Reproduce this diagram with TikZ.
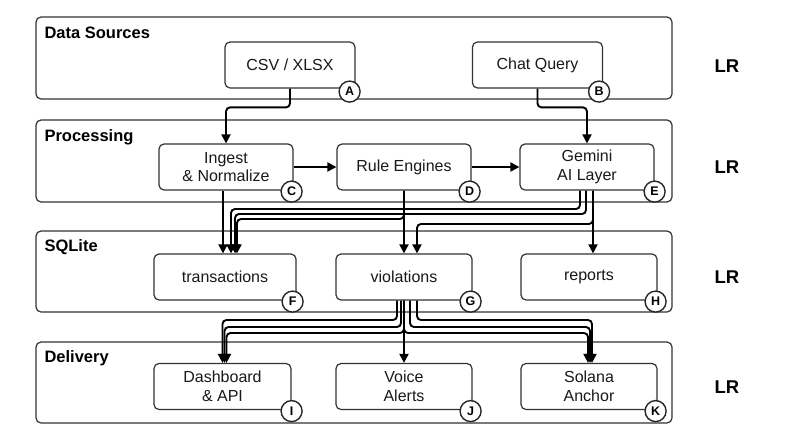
\documentclass[tikz,border=0pt]{standalone}
\usepackage{fontspec}
\setmainfont{Liberation Sans}
\usetikzlibrary{arrows.meta}

\begin{document}
\begin{tikzpicture}[x=1pt, y=-1pt,
    group/.style={draw=black!80, line width=1.2pt, rounded corners=5pt},
    box/.style={draw=black!80, line width=1.2pt, rounded corners=5pt, fill=white, minimum height=46pt,
      align=center, inner sep=2pt, text=black!90, font=\fontsize{16}{18.5}\selectfont},
    badge/.style={circle, draw=black!85, line width=1.4pt, fill=white, minimum size=21pt, inner sep=0pt,
      font=\bfseries\fontsize{12.5}{12.5}\selectfont},
    grouplabel/.style={anchor=west, font=\bfseries\fontsize{16.5}{16.5}\selectfont},
    dirlabel/.style={font=\bfseries\fontsize{18.5}{18.5}\selectfont},
    edge/.style={line width=1.9pt, rounded corners=4pt, -{Triangle[length=9pt,width=9pt]}}]

    \fill[white] (0,0) rectangle (806,440);
    \useasboundingbox (0,0) rectangle (806,440);

    \draw[group] (36,17) rectangle (672,99);
    \draw[group] (36,120) rectangle (672,202);
    \draw[group] (36,231) rectangle (672,312);
    \draw[group] (36,342) rectangle (672,423);

    \node[grouplabel] (srcLbl) at (41,33) {Data Sources};
    \node[grouplabel] (procLbl) at (41,137) {Processing};
    \node[grouplabel] (dbLbl) at (41,247) {SQLite};
    \node[grouplabel] (outLbl) at (41,358) {Delivery};

    \node[dirlabel] (srcDir) at (727,66) {LR};
    \node[dirlabel] (procDir) at (727,167) {LR};
    \node[dirlabel] (dbDir) at (727,277) {LR};
    \node[dirlabel] (outDir) at (727,387) {LR};

    \node[box, minimum width=130pt] (A) at (290,65) {CSV / XLSX};
    \node[box, minimum width=130pt] (B) at (537.5,65) {Chat Query};
    \node[box, minimum width=134pt] (C) at (226,167) {Ingest\\\& Normalize};
    \node[box, minimum width=134pt] (D) at (404,167) {Rule Engines};
    \node[box, minimum width=134pt] (E) at (587,167) {Gemini\\AI Layer};
    \node[box, minimum width=142pt] (F) at (225,277) {transactions};
    \node[box, minimum width=136pt] (G) at (404,277) {violations};
    \node[box, minimum width=136pt] (H) at (589,277) {reports};
    \node[box, minimum width=137pt] (I) at (222.5,386.5) {Dashboard\\\& API};
    \node[box, minimum width=136pt] (J) at (404,386.5) {Voice\\Alerts};
    \node[box, minimum width=136pt] (K) at (589,386.5) {Solana\\Anchor};

    \draw[edge] (A.south) |- ([yshift=36pt]C.north) -- (C.north);
    \draw[edge] (B.south) |- ([yshift=36pt]E.north) -- (E.north);
    \draw[edge] (C.east) -- (D.west);
    \draw[edge] (D.east) -- (E.west);

    \draw[edge] ([xshift=-3pt]C.south) -- ([xshift=-3pt]C.south |- F.north);
    \draw[edge] ([xshift=-7pt]E.south) |- ([xshift=6pt]F.north |- 0,209) -- ([xshift=6pt]F.north);
    \draw[edge] ([xshift=-1pt]E.south) |- ([xshift=10pt]F.north |- 0,214) -- ([xshift=10pt]F.north);
    \draw[edge] (D.south) |- ([xshift=12pt]F.north |- 0,219) -- ([xshift=12pt]F.north);
    \draw[edge] (D.south) -- (G.north);
    \draw[edge] ([xshift=6pt]E.south) |- ([xshift=13pt]G.north |- 0,224) -- ([xshift=13pt]G.north);
    \draw[edge] ([xshift=6pt]E.south) -- ([xshift=6pt]E.south |- H.north);

    \draw[edge] ([xshift=-7pt]G.south) |- (I.north |- 0,320) -- (I.north);
    \draw[edge] ([xshift=-3pt]G.south) |- ([xshift=2pt]I.north |- 0,327) -- ([xshift=2pt]I.north);
    \draw[edge] (G.south) |- ([xshift=4pt]I.north |- 0,333) -- ([xshift=4pt]I.north);
    \draw[edge] (G.south) -- (J.north);
    \draw[edge] ([xshift=13pt]G.south) |- ([xshift=3pt]K.north |- 0,320) -- ([xshift=3pt]K.north);
    \draw[edge] ([xshift=6pt]G.south) |- ([xshift=1pt]K.north |- 0,327) -- ([xshift=1pt]K.north);
    \draw[edge] (G.south) |- ([xshift=-1pt]K.north |- 0,333) -- ([xshift=-1pt]K.north);

    \node[badge] (Ab) at ([xshift=-6pt,yshift=-3pt]A.south east) {A};
    \node[badge] (Bb) at ([xshift=-4pt,yshift=-3pt]B.south east) {B};
    \node[badge] (Cb) at ([xshift=-2pt,yshift=-1pt]C.south east) {C};
    \node[badge] (Db) at ([xshift=-2pt,yshift=-1pt]D.south east) {D};
    \node[badge] (Eb) at ([xshift=0pt,yshift=-1pt]E.south east) {E};
    \node[badge] (Fb) at ([xshift=-4pt,yshift=-1pt]F.south east) {F};
    \node[badge] (Gb) at ([xshift=-2pt,yshift=-1pt]G.south east) {G};
    \node[badge] (Hb) at ([xshift=-2pt,yshift=-1pt]H.south east) {H};
    \node[badge] (Ib) at ([xshift=0pt,yshift=-1pt]I.south east) {I};
    \node[badge] (Jb) at ([xshift=-2pt,yshift=-1pt]J.south east) {J};
    \node[badge] (Kb) at ([xshift=-2pt,yshift=-1pt]K.south east) {K};
\end{tikzpicture}
\end{document}
